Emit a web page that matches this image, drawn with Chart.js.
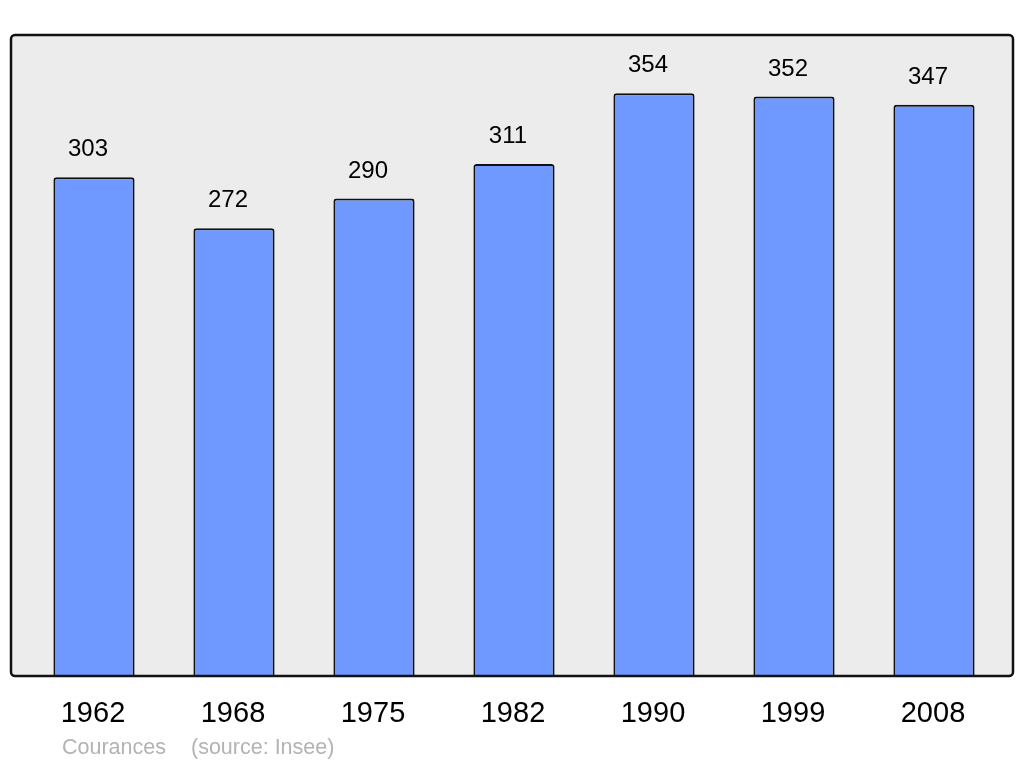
<!DOCTYPE html>
<html>
<head>
<meta charset="utf-8">
<script src="https://cdn.jsdelivr.net/npm/chart.js@4/dist/chart.umd.min.js"></script>
<style>
  html, body { margin: 0; padding: 0; background: #fff; }
  #wrap { width: 1024px; height: 765px; }
</style>
</head>
<body>
<div id="wrap"><canvas id="chart" width="1024" height="765"></canvas></div>
<script>
// données
const years = ["1962", "1968", "1975", "1982", "1990", "1999", "2008"];
const population = [303, 272, 290, 311, 354, 352, 347];
const commune = "Courances";
const source = "(source: Insee)";

const FONT = "'Liberation Sans', Arial, sans-serif";

// fond gris + cadre + textes
const framePlugin = {
  id: "frame",
  beforeDatasetsDraw(chart) {
    const ctx = chart.ctx;
    ctx.save();
    ctx.fillStyle = "#ececec";
    ctx.beginPath();
    ctx.roundRect(11, 35, 1002, 641, 4);
    ctx.fill();
    ctx.restore();
  },
  afterDatasetsDraw(chart) {
    const ctx = chart.ctx;
    const xScale = chart.scales.x;
    ctx.save();
    ctx.strokeStyle = "#111";
    ctx.lineWidth = 2.5;
    ctx.beginPath();
    ctx.roundRect(11, 35, 1002, 641, 4);
    ctx.stroke();

    // valeurs au-dessus des barres
    ctx.fillStyle = "#000";
    ctx.textAlign = "center";
    ctx.textBaseline = "alphabetic";
    ctx.font = "24px " + FONT;
    chart.getDatasetMeta(0).data.forEach((bar, i) => {
      ctx.fillText(String(population[i]), bar.x - 6, bar.y - 21);
    });

    // années
    ctx.font = "29px " + FONT;
    years.forEach((y, i) => {
      ctx.fillText(y, xScale.getPixelForValue(i) - 1, 722);
    });

    // pied
    ctx.textAlign = "left";
    ctx.fillStyle = "#b3b3b3";
    ctx.font = "21.5px " + FONT;
    ctx.fillText(commune, 62, 754);
    ctx.fillText(source, 191, 754);
    ctx.restore();
  }
};

new Chart(document.getElementById("chart").getContext("2d"), {
  type: "bar",
  data: {
    labels: years,
    datasets: [{
      data: population,
      backgroundColor: "#7099ff",
      borderColor: "#111",
      borderWidth: 2,
      borderSkipped: "bottom",
      borderRadius: { topLeft: 3, topRight: 3 },
      barPercentage: 0.58,
      categoryPercentage: 1
    }]
  },
  options: {
    responsive: false,
    animation: false,
    layout: { padding: { left: 24, right: 20, top: 34, bottom: 89 } },
    scales: {
      x: { display: false },
      y: { display: false, min: 0, max: 390 }
    },
    plugins: {
      legend: { display: false },
      tooltip: { enabled: false }
    }
  },
  plugins: [framePlugin]
});
</script>
</body>
</html>
